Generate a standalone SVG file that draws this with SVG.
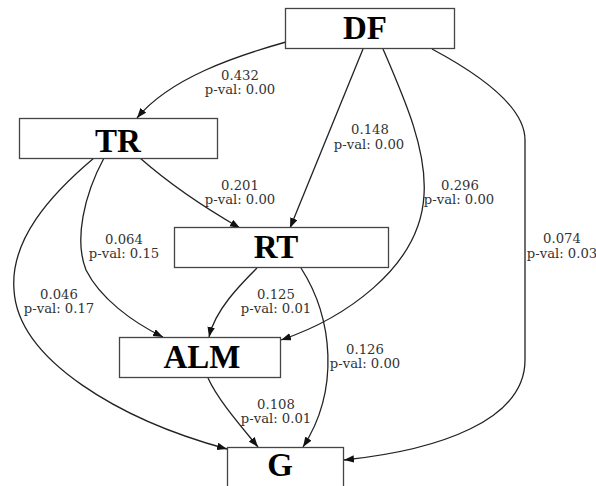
<svg xmlns="http://www.w3.org/2000/svg" width="596" height="486" viewBox="0 0 596 486">
<style>
.box{fill:#fff;stroke:#444;stroke-width:1.3}
.nl{font-family:"Liberation Serif","Times New Roman",serif;font-weight:bold;font-size:33px;fill:#000;text-anchor:middle}
.el{font-family:"DejaVu Serif",serif;font-size:13.2px;fill:#333;text-anchor:middle}
.e{fill:none;stroke:#222;stroke-width:1.3;marker-end:url(#ah)}
</style>
<defs>
<marker id="ah" markerUnits="userSpaceOnUse" markerWidth="11" markerHeight="8" refX="10" refY="3.75" orient="auto">
<path d="M0,0 L10,3.75 L0,7.5 z" fill="#111"/>
</marker>
</defs>
<rect width="596" height="486" fill="#fff"/>
<g id="connectors">
<path class="e" d="M286,42 C236,56 170,78 137,118"/>
<path class="e" d="M140,158 C165,180 200,205 240,228"/>
<path class="e" d="M363,49 L290,228"/>
<path class="e" d="M383,49 C405,100 427,150 424,195 C420,270 340,320 281,340"/>
<path class="e" d="M432,49 C490,80 525,110 525,140 L525,360 C525,420 440,450 344,460"/>
<path class="e" d="M104,158 C84,195 74,240 86,270 C100,298 132,322 163,337"/>
<path class="e" d="M94,158 C50,195 10,240 14,290 C18,360 120,420 227,449"/>
<path class="e" d="M257,268 C240,285 215,310 209,337"/>
<path class="e" d="M301,268 C333,318 340,390 303,447"/>
<path class="e" d="M208,378 C218,400 240,425 258,447"/>
</g>
<g id="edge-labels">
<text class="el" x="240" y="80">0.432</text><text class="el" x="240" y="94">p-val: 0.00</text>
<text class="el" x="240" y="190">0.201</text><text class="el" x="240" y="204">p-val: 0.00</text>
<text class="el" x="370" y="134">0.148</text><text class="el" x="369" y="149">p-val: 0.00</text>
<text class="el" x="460" y="190">0.296</text><text class="el" x="459" y="204">p-val: 0.00</text>
<text class="el" x="562" y="243">0.074</text><text class="el" x="562" y="258">p-val: 0.03</text>
<text class="el" x="124" y="244">0.064</text><text class="el" x="124" y="258">p-val: 0.15</text>
<text class="el" x="59" y="299">0.046</text><text class="el" x="59" y="313">p-val: 0.17</text>
<text class="el" x="276" y="299">0.125</text><text class="el" x="276" y="313">p-val: 0.01</text>
<text class="el" x="365" y="354">0.126</text><text class="el" x="365" y="368">p-val: 0.00</text>
<text class="el" x="276" y="409">0.108</text><text class="el" x="276" y="423">p-val: 0.01</text>
</g>
<g id="DF"><rect class="box" x="285.5" y="8.5" width="169" height="40"/><text class="nl" x="365" y="39">DF</text></g>
<g id="TR"><rect class="box" x="19.5" y="118.5" width="198" height="40"/><text class="nl" x="118" y="152">TR</text></g>
<g id="RT"><rect class="box" x="174.5" y="227.5" width="214" height="40"/><text class="nl" x="276" y="258">RT</text></g>
<g id="ALM"><rect class="box" x="119.5" y="337.5" width="161" height="40"/><text class="nl" x="202" y="368">ALM</text></g>
<g id="G"><rect class="box" x="227.5" y="447.5" width="116" height="45"/><text class="nl" x="280" y="476">G</text></g>
</svg>
